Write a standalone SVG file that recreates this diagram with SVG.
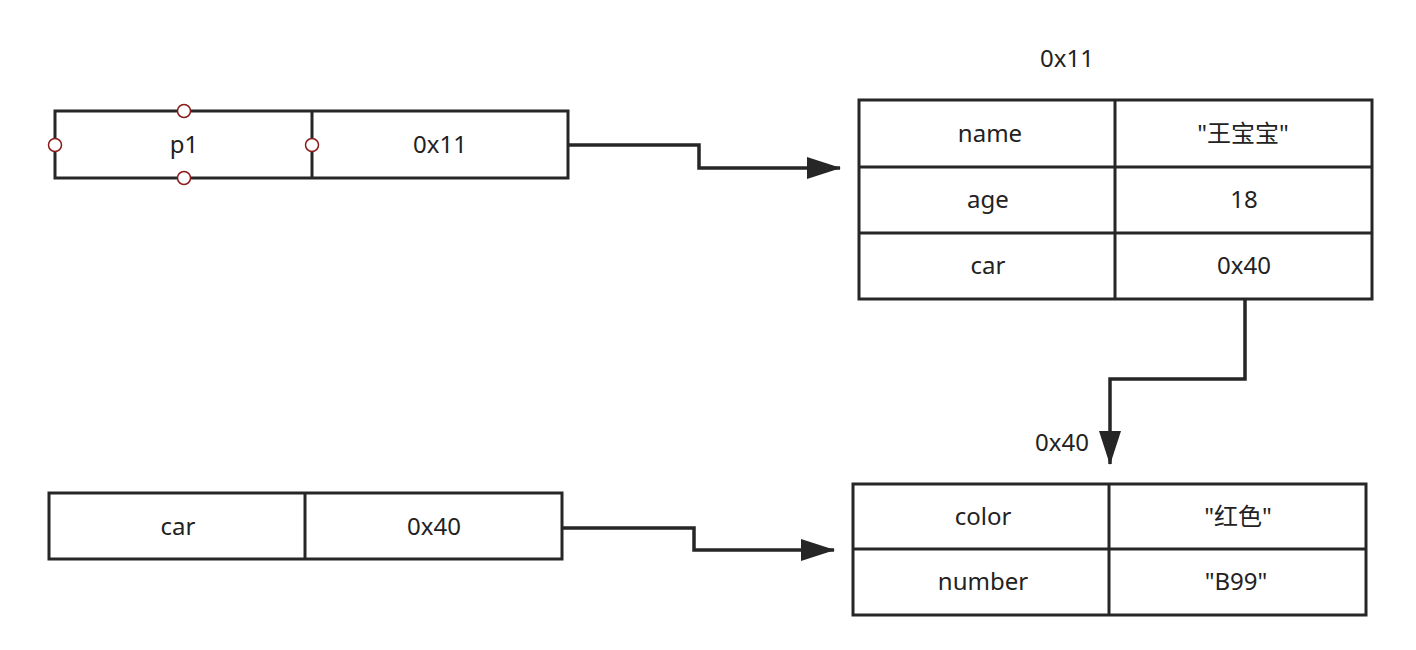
<svg xmlns="http://www.w3.org/2000/svg" width="1416" height="650" viewBox="0 0 1416 650">
<defs>
<style>
.box{fill:#fff;stroke:#262626;stroke-width:3}
.ln{fill:none;stroke:#262626;stroke-width:3}
.t{font-family:"Noto Sans","Noto Sans CJK SC",sans-serif;font-size:24px;fill:#222;text-anchor:middle}
.h{fill:#fff;stroke:#8b1a1a;stroke-width:1.5}
.conn{fill:none;stroke:#262626;stroke-width:3.5}
</style>
<marker id="ah" viewBox="0 0 34 22" refX="33" refY="11" markerWidth="34" markerHeight="22" markerUnits="userSpaceOnUse" orient="auto">
<path d="M0,0 L34,11 L0,22 Z" fill="#262626"/>
</marker>
</defs>
<rect width="1416" height="650" fill="#fff"/>
<g id="p1">
<rect class="box" x="55" y="111" width="513" height="67"/>
<line class="ln" x1="312" y1="111" x2="312" y2="178"/>
<text class="t" x="184" y="153">p1</text>
<text class="t" x="440" y="153">0x11</text>
<circle class="h" cx="184" cy="111" r="6.5"/>
<circle class="h" cx="184" cy="178" r="6.5"/>
<circle class="h" cx="55" cy="145" r="6.5"/>
<circle class="h" cx="312" cy="145" r="6.5"/>
</g>
<g id="person">
<text class="t" x="1067" y="67">0x11</text>
<rect class="box" x="859" y="100" width="513" height="199"/>
<line class="ln" x1="859" y1="167" x2="1372" y2="167"/>
<line class="ln" x1="859" y1="233" x2="1372" y2="233"/>
<line class="ln" x1="1115" y1="100" x2="1115" y2="299"/>
<text class="t" x="990" y="142">name</text>
<text class="t" x="1243" y="142">"王宝宝"</text>
<text class="t" x="988" y="208">age</text>
<text class="t" x="1244" y="208">18</text>
<text class="t" x="988" y="274">car</text>
<text class="t" x="1244" y="274">0x40</text>
</g>
<g id="car">
<text class="t" x="1062" y="451">0x40</text>
<rect class="box" x="853" y="484" width="513" height="131"/>
<line class="ln" x1="853" y1="549" x2="1366" y2="549"/>
<line class="ln" x1="1109" y1="484" x2="1109" y2="615"/>
<text class="t" x="983" y="525">color</text>
<text class="t" x="1238" y="525">"红色"</text>
<text class="t" x="983" y="590">number</text>
<text class="t" x="1236" y="590">"B99"</text>
</g>
<g id="carvar">
<rect class="box" x="49" y="493" width="513" height="66"/>
<line class="ln" x1="305" y1="493" x2="305" y2="559"/>
<text class="t" x="178" y="535">car</text>
<text class="t" x="434" y="535">0x40</text>
</g>
<g id="connectors">
<path class="conn" d="M568,145 H699 V168 H840" marker-end="url(#ah)"/>
<path class="conn" d="M1245,299 V379 H1110 V464" marker-end="url(#ah)"/>
<path class="conn" d="M562,528 H694 V550 H834" marker-end="url(#ah)"/>
</g>
</svg>
